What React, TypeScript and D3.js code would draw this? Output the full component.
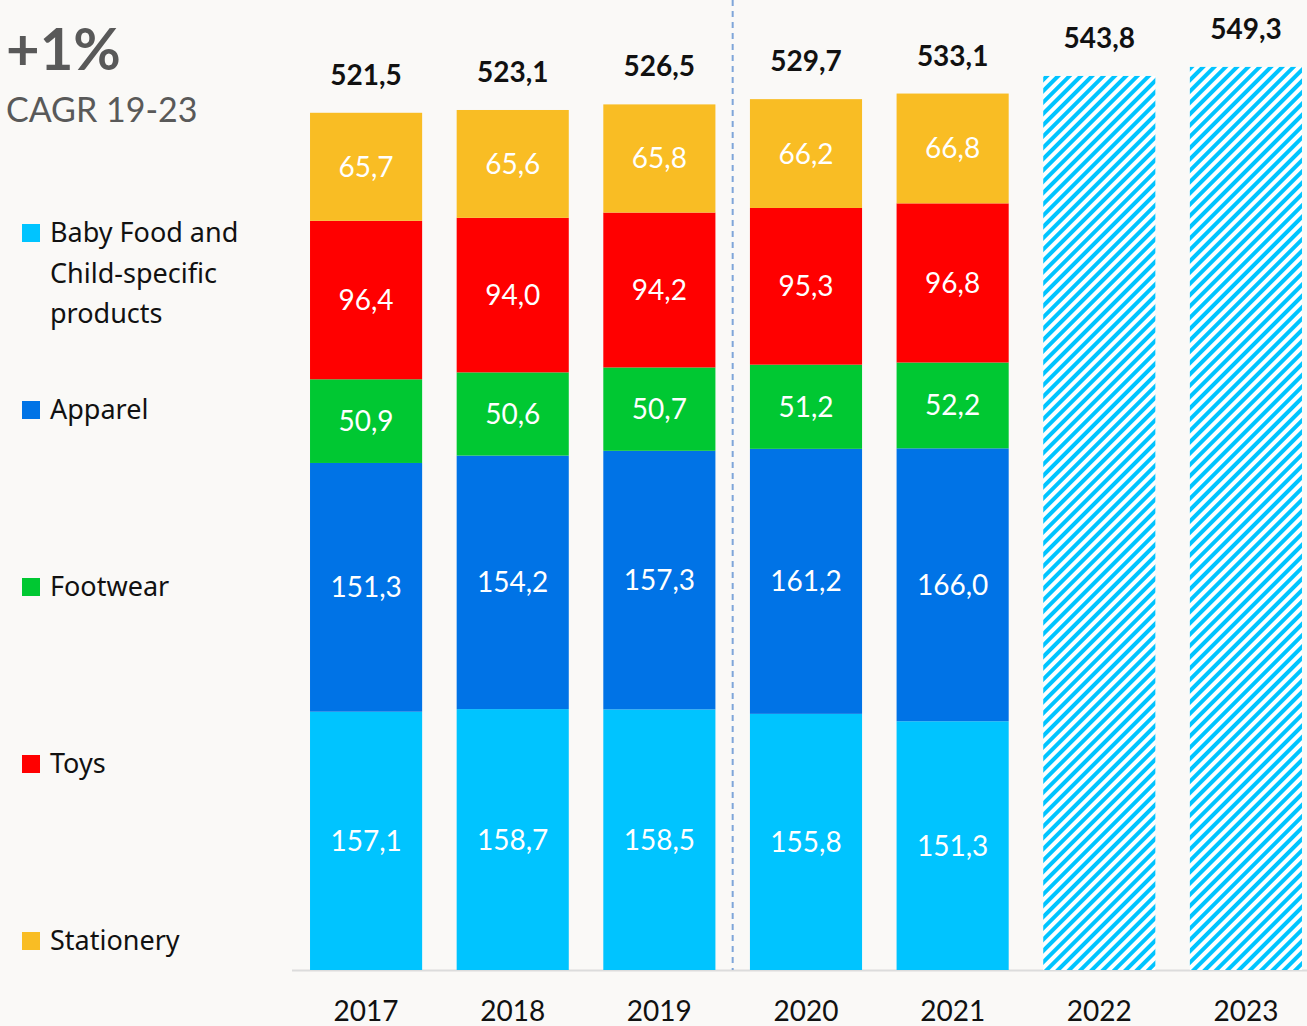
import * as d3 from 'd3';

const years = ['2017', '2018', '2019', '2020', '2021', '2022', '2023'];
const actualYears = ['2017', '2018', '2019', '2020', '2021'];
const forecastYears = ['2022', '2023'];

const babyFood = [157.1, 158.7, 158.5, 155.8, 151.3];
const apparel = [151.3, 154.2, 157.3, 161.2, 166.0];
const footwear = [50.9, 50.6, 50.7, 51.2, 52.2];
const toys = [96.4, 94.0, 94.2, 95.3, 96.8];
const stationery = [65.7, 65.6, 65.8, 66.2, 66.8];
const totals = [521.5, 523.1, 526.5, 529.7, 533.1, 543.8, 549.3];

const seriesKeys = ['babyFood', 'apparel', 'footwear', 'toys', 'stationery'];
const seriesColors = ['#00c4ff', '#0073e6', '#00c832', '#ff0000', '#f9bd24'];

const legendLabels = [
  ['Baby Food and', 'Child-specific', 'products'],
  ['Apparel'],
  ['Footwear'],
  ['Toys'],
  ['Stationery'],
];
const legendColors = ['#00c4ff', '#0073e6', '#00c832', '#ff0000', '#f9bd24'];

const fmt = (v: number) => v.toFixed(1).replace('.', ',');
const FONT = 'Lato, "Noto Sans", sans-serif';
const WIDE = '"Noto Sans", sans-serif';

export default function App() {
  const W = 1307, H = 1026;
  const baseY = 970;

  const x = d3.scaleBand<string>()
    .domain(years)
    .range([292.75, 1319.25])
    .paddingInner(0.2355)
    .paddingOuter(0.1178);

  const y = d3.scaleLinear().domain([0, 590]).range([baseY, 0]);

  const rows = actualYears.map((yr, i) => ({
    year: yr,
    babyFood: babyFood[i],
    apparel: apparel[i],
    footwear: footwear[i],
    toys: toys[i],
    stationery: stationery[i],
  }));
  const stacked = d3.stack<any>().keys(seriesKeys)(rows);

  const legendY = [232, 409, 586, 763, 940];

  // dashed divider between 2019 and 2020
  const divX = (x('2019')! + x.bandwidth() + x('2020')!) / 2;

  return (
    <div style={{ position: 'fixed', left: 0, top: 0 }}>
      <svg width={W} height={H} style={{ display: 'block', background: '#faf9f7' }}>
        <defs>
          <pattern id="hatch" patternUnits="userSpaceOnUse" width="8" height="8" patternTransform="rotate(45)">
            <rect width="8" height="8" fill="#ffffff" />
            <line x1="2" y1="0" x2="2" y2="8" stroke="#00c4ff" strokeWidth="4" />
          </pattern>
        </defs>

        <text x={6} y={70} fontFamily={FONT} fontWeight={700} fontSize={58} fill="#595959">+1%</text>
        <text x={6} y={122} fontFamily={FONT} fontSize={34} fill="#595959">CAGR 19-23</text>

        {legendLabels.map((lines, i) => (
          <g key={i}>
            <rect x={22} y={legendY[i] - 8} width={18} height={18} fill={legendColors[i]} />
            {lines.map((l, j) => (
              <text key={j} x={50} y={legendY[i] + 10 + j * 40.5} fontFamily={WIDE} fontSize={27} fill="#111">{l}</text>
            ))}
          </g>
        ))}

        <line x1={292} x2={1307} y1={baseY + 0.5} y2={baseY + 0.5} stroke="#dcdcdc" strokeWidth={2} />
        <line x1={divX} x2={divX} y1={0} y2={baseY} stroke="#7fa6d9" strokeWidth={2} strokeDasharray="6,5" />

        {stacked.map((s, si) => (
          <g key={s.key}>
            {s.map((d, i) => {
              const yr = actualYears[i];
              const top = y(d[1]), bot = y(d[0]);
              return (
                <g key={yr}>
                  <rect x={x(yr)} y={top} width={x.bandwidth()} height={bot - top} fill={seriesColors[si]} />
                  <text x={x(yr)! + x.bandwidth() / 2} y={(top + bot) / 2 + 10} textAnchor="middle"
                    fontFamily={FONT} fontSize={28} fill="#fff">{fmt(d[1] - d[0])}</text>
                </g>
              );
            })}
          </g>
        ))}

        {forecastYears.map((yr) => {
          const v = totals[years.indexOf(yr)];
          return (
            <rect key={yr} x={x(yr)} y={y(v)} width={x.bandwidth()} height={baseY - y(v)} fill="url(#hatch)" />
          );
        })}

        {years.map((yr, i) => (
          <text key={yr} x={x(yr)! + x.bandwidth() / 2} y={y(totals[i]) - 28} textAnchor="middle"
            fontFamily={FONT} fontWeight={700} fontSize={28} fill="#111">{fmt(totals[i])}</text>
        ))}

        {years.map((yr) => (
          <text key={yr} x={x(yr)! + x.bandwidth() / 2} y={1021} textAnchor="middle"
            fontFamily={FONT} fontSize={28} fill="#111">{yr}</text>
        ))}
      </svg>
    </div>
  );
}
